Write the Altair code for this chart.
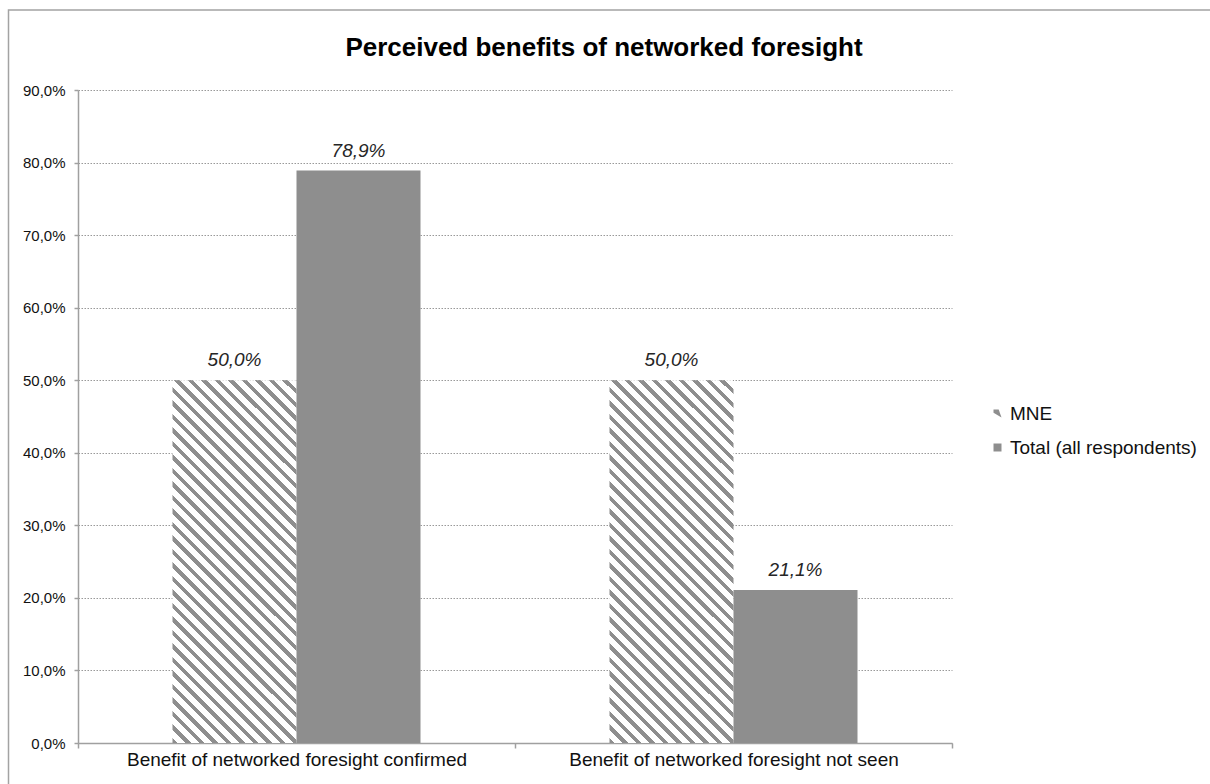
import altair as alt
import pandas as pd

# ---- data ----
categories = ["Benefit of networked foresight confirmed", "Benefit of networked foresight not seen"]
series_names = ["MNE", "Total (all respondents)"]
mne_values = [0.500, 0.500]
total_values = [0.789, 0.211]
y_ticks = [0.0, 0.1, 0.2, 0.3, 0.4, 0.5, 0.6, 0.7, 0.8, 0.9]

rows = []
for i, c in enumerate(categories):
    rows.append({"category": c, "series": series_names[0], "value": mne_values[i]})
    rows.append({"category": c, "series": series_names[1], "value": total_values[i]})
df = pd.DataFrame(rows)

# ---- styling ----
FONT = "Liberation Sans"
GRAY = "#8e8e8e"
AXIS_GRAY = "#a0a0a0"
W, H = 874, 653

# diagonal hatch made with a hard-stop linear gradient (bbox units)
bar_w = 124.0
bar_h = 0.5 / 0.9 * H
span = bar_w + bar_h
k = span / (bar_w ** 2 + bar_h ** 2)
period = 13.5 / span
gray_frac = 0.40
stops = []
t = 0.0
while t < 1.0:
    a = round(t, 5)
    b = round(min(t + period * gray_frac, 1.0), 5)
    c = round(min(t + period, 1.0), 5)
    stops += [
        {"offset": a, "color": GRAY},
        {"offset": b, "color": GRAY},
        {"offset": b, "color": "#ffffff"},
        {"offset": c, "color": "#ffffff"},
    ]
    t += period
hatch = {
    "gradient": "linear",
    "x1": 0, "y1": 1,
    "x2": round(k * bar_w, 5), "y2": round(1 - k * bar_h, 5),
    "stops": stops,
}

x_axis = alt.Axis(
    title=None, labelAngle=0, tickBand="extent", tickSize=5,
    labelFontSize=19, labelPadding=2, labelLimit=0, labelColor="#111111",
    labelFont=FONT, domainColor=AXIS_GRAY, tickColor=AXIS_GRAY,
    domainWidth=1.5, tickWidth=1.5,
)
y_axis = alt.Axis(
    title=None, values=y_ticks, format=".1%",
    labelExpr="replace(datum.label, '.', ',')",
    tickSize=4, labelPadding=9, labelFontSize=15, labelFont=FONT,
    labelColor="#111111", domainColor=AXIS_GRAY, tickColor=AXIS_GRAY,
    domainWidth=1.5, tickWidth=1.5,
    grid=True, gridColor="#999999", gridDash=[1.5, 1.5], gridWidth=1,
)
x_scale = alt.Scale(paddingInner=0, paddingOuter=0)
xoff_scale = alt.Scale(paddingInner=0, paddingOuter=0.762)
y_scale = alt.Scale(domain=[0, 0.9], nice=False)


def x_enc():
    return alt.X("category:N", sort=categories, scale=x_scale, axis=x_axis)


def xoff_enc():
    return alt.XOffset("series:N", sort=series_names, scale=xoff_scale)


base = alt.Chart(df)

# hidden points beneath the bars: they only feed the legend
legend_pts = base.transform_calculate(mid="datum.value / 2").mark_point(
    filled=True, size=64, opacity=1
).encode(
    x=x_enc(),
    xOffset=xoff_enc(),
    y=alt.Y("mid:Q", scale=y_scale, axis=y_axis),
    color=alt.Color(
        "series:N", sort=series_names,
        scale=alt.Scale(domain=series_names, range=[GRAY, GRAY]),
        legend=alt.Legend(
            title=None, orient="none", legendX=910, legendY=314, padding=0,
            labelFontSize=19, labelFont=FONT, labelColor="#111111", labelLimit=0,
            symbolSize=64, rowPadding=14, labelOffset=3, symbolStrokeWidth=0,
        ),
    ),
    shape=alt.Shape(
        "series:N", sort=series_names,
        scale=alt.Scale(
            domain=series_names,
            range=["M-1,-1L0.3,-1L1,1L-1,-0.2Z", "square"],
        ),
        legend=alt.Legend(title=None, labelLimit=0),
    ),
)

bars = base.mark_bar(strokeWidth=0).encode(
    x=x_enc(),
    xOffset=xoff_enc(),
    y=alt.Y("value:Q", scale=y_scale, axis=y_axis),
    fill=alt.condition(alt.datum.series == "MNE", alt.value(hatch), alt.value(GRAY)),
)

labels = base.transform_calculate(
    label="replace(format(datum.value, '.1%'), '.', ',')"
).mark_text(
    font=FONT, fontSize=19, fontStyle="italic", baseline="alphabetic",
    dy=-14, color="#262626",
).encode(
    x=x_enc(),
    xOffset=xoff_enc(),
    y=alt.Y("value:Q", scale=y_scale, axis=y_axis),
    text="label:N",
)

border = alt.Chart(alt.Data(values=[{"b": 1}])).mark_rect(
    fill="transparent", stroke="#a3a3a3", strokeWidth=1.5
).encode(
    x=alt.value(-69.5), x2=alt.value(1400),
    y=alt.value(-80), y2=alt.value(1000),
)

chart = alt.layer(legend_pts, bars, labels, border).properties(
    width=W,
    height=H,
    autosize=alt.AutoSizeParams(type="none"),
    padding={"left": 78, "top": 90, "right": 258, "bottom": 41},
    title=alt.Title(
        "Perceived benefits of networked foresight",
        font=FONT, fontSize=26, fontWeight="bold", color="#000000",
        anchor="middle", dx=89, baseline="alphabetic", offset=-72.75,
    ),
).configure_view(stroke=None)

chart.save("out.html", embed_options={"renderer": "svg", "actions": False})
